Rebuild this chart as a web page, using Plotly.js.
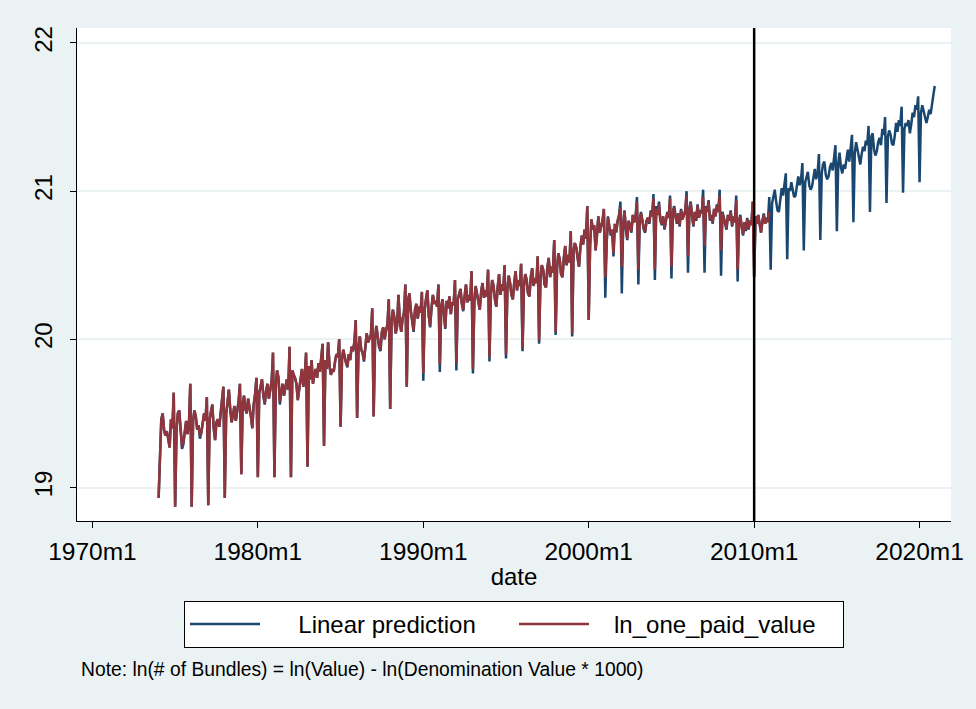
<!DOCTYPE html>
<html>
<head>
<meta charset="utf-8">
<script src="https://cdn.plot.ly/plotly-3.0.1.min.js"></script>
<style>html,body{margin:0;padding:0;background:#EAF2F3;}#chart{width:976px;height:709px;}</style>
</head>
<body>
<div id="chart"></div>
<script>
// Monthly series, starting 1974m1
const startYear = 1974;

// Linear prediction, 1974m1 - 2020m12 (one row per year, Jan..Dec)
const linearPrediction = [
  18.93, 19.25, 19.46, 19.50, 19.39, 19.35, 19.38, 19.33, 19.27, 19.46, 19.40, 19.64,
  18.87, 19.39, 19.50, 19.52, 19.35, 19.26, 19.29, 19.38, 19.45, 19.36, 19.42, 19.70,
  18.87, 19.45, 19.52, 19.48, 19.39, 19.42, 19.33, 19.37, 19.45, 19.50, 19.45, 19.61,
  18.88, 19.46, 19.51, 19.56, 19.40, 19.32, 19.44, 19.46, 19.41, 19.50, 19.57, 19.68,
  18.93, 19.50, 19.57, 19.66, 19.53, 19.44, 19.49, 19.55, 19.45, 19.52, 19.58, 19.70,
  19.09, 19.57, 19.62, 19.53, 19.50, 19.60, 19.55, 19.48, 19.40, 19.56, 19.63, 19.74,
  19.07, 19.64, 19.68, 19.73, 19.62, 19.56, 19.65, 19.70, 19.60, 19.66, 19.72, 19.91,
  19.07, 19.70, 19.79, 19.74, 19.56, 19.64, 19.70, 19.62, 19.68, 19.73, 19.66, 19.95,
  19.07, 19.79, 19.76, 19.74, 19.70, 19.59, 19.66, 19.72, 19.80, 19.68, 19.75, 19.91,
  19.14, 19.82, 19.73, 19.86, 19.70, 19.76, 19.80, 19.74, 19.84, 19.78, 19.88, 19.97,
  19.28, 19.86, 19.80, 19.98, 19.82, 19.76, 19.80, 19.78, 19.85, 19.90, 19.88, 20.00,
  19.41, 19.86, 19.93, 19.88, 19.84, 19.81, 19.90, 19.86, 19.95, 19.92, 19.98, 20.13,
  19.47, 19.95, 20.02, 19.93, 19.91, 19.85, 19.96, 20.04, 19.98, 20.00, 20.03, 20.21,
  19.48, 20.00, 20.09, 20.02, 19.95, 19.92, 20.05, 20.08, 20.00, 20.06, 20.10, 20.27,
  19.53, 20.13, 20.20, 20.15, 20.04, 20.09, 20.30, 20.12, 20.05, 20.14, 20.18, 20.37,
  19.68, 20.27, 20.31, 20.19, 20.11, 20.05, 20.20, 20.24, 20.14, 20.22, 20.18, 20.32,
  19.72, 20.20, 20.27, 20.33, 20.16, 20.08, 20.21, 20.30, 20.24, 20.26, 20.22, 20.37,
  19.78, 20.22, 20.27, 20.18, 20.07, 20.26, 20.21, 20.29, 20.17, 20.25, 20.23, 20.40,
  19.79, 20.27, 20.31, 20.34, 20.24, 20.19, 20.29, 20.37, 20.25, 20.30, 20.26, 20.46,
  19.77, 20.25, 20.36, 20.31, 20.27, 20.20, 20.32, 20.38, 20.28, 20.33, 20.29, 20.47,
  19.85, 20.30, 20.40, 20.36, 20.27, 20.22, 20.35, 20.44, 20.30, 20.37, 20.33, 20.50,
  19.87, 20.34, 20.43, 20.38, 20.30, 20.27, 20.38, 20.46, 20.33, 20.40, 20.36, 20.51,
  19.92, 20.36, 20.44, 20.40, 20.31, 20.29, 20.42, 20.48, 20.36, 20.41, 20.38, 20.56,
  19.97, 20.42, 20.50, 20.47, 20.37, 20.35, 20.48, 20.55, 20.42, 20.49, 20.45, 20.67,
  20.03, 20.48, 20.58, 20.54, 20.44, 20.42, 20.55, 20.63, 20.50, 20.57, 20.52, 20.73,
  20.02, 20.60, 20.65, 20.62, 20.55, 20.49, 20.62, 20.70, 20.64, 20.74, 20.68, 20.90,
  20.13, 20.63, 20.81, 20.74, 20.77, 20.60, 20.70, 20.83, 20.72, 20.76, 20.80, 20.88,
  20.28, 20.65, 20.83, 20.76, 20.70, 20.74, 20.56, 20.78, 20.72, 20.80, 20.84, 20.93,
  20.31, 20.78, 20.87, 20.74, 20.67, 20.80, 20.76, 20.72, 20.84, 20.79, 20.83, 20.96,
  20.37, 20.81, 20.86, 20.80, 20.74, 20.72, 20.80, 20.82, 20.78, 20.87, 20.84, 20.98,
  20.40, 20.90, 20.84, 20.93, 20.80, 20.77, 20.83, 20.74, 20.81, 20.86, 20.82, 20.97,
  20.41, 20.86, 20.90, 20.82, 20.78, 20.85, 20.76, 20.88, 20.81, 20.84, 20.87, 21.00,
  20.45, 20.88, 20.93, 20.83, 20.76, 20.86, 20.80, 20.91, 20.82, 20.87, 20.85, 21.01,
  20.45, 20.90, 20.86, 20.94, 20.80, 20.84, 20.78, 20.88, 20.83, 20.91, 20.86, 21.01,
  20.43, 20.86, 20.82, 20.78, 20.74, 20.84, 20.80, 20.87, 20.76, 20.83, 20.79, 20.97,
  20.39, 20.80, 20.84, 20.76, 20.70, 20.79, 20.73, 20.82, 20.74, 20.80, 20.78, 20.93,
  20.42, 20.83, 20.79, 20.84, 20.76, 20.72, 20.80, 20.85, 20.78, 20.82, 20.80, 20.96,
  20.47, 20.92, 20.96, 21.01, 20.93, 20.87, 20.86, 20.94, 21.02, 20.97, 21.03, 21.12,
  20.54, 21.02, 21.00, 21.06, 21.01, 20.96, 20.97, 21.05, 21.10, 21.04, 21.08, 21.19,
  20.60, 21.06, 21.09, 21.13, 21.04, 21.01, 21.03, 21.10, 21.15, 21.08, 21.12, 21.25,
  20.67, 21.12, 21.18, 21.20, 21.11, 21.08, 21.10, 21.16, 21.19, 21.14, 21.22, 21.31,
  20.73, 21.19, 21.26, 21.16, 21.12, 21.18, 21.15, 21.22, 21.28, 21.20, 21.32, 21.38,
  20.79, 21.26, 21.33, 21.28, 21.21, 21.18, 21.25, 21.30, 21.27, 21.34, 21.31, 21.44,
  20.86, 21.37, 21.39, 21.28, 21.24, 21.27, 21.33, 21.36, 21.31, 21.42, 21.38, 21.50,
  20.92, 21.37, 21.41, 21.38, 21.32, 21.31, 21.37, 21.46, 21.40, 21.48, 21.44, 21.57,
  20.99, 21.42, 21.46, 21.44, 21.48, 21.39, 21.45, 21.53, 21.50, 21.58, 21.55, 21.64,
  21.06, 21.53, 21.58, 21.54, 21.48, 21.46, 21.50, 21.55, 21.52, 21.60, 21.65, 21.71
];

// ln_one_paid_value, 1974m1 - 2010m12
const lnOnePaidValue = [
  18.93, 19.25, 19.46, 19.50, 19.39, 19.35, 19.38, 19.33, 19.27, 19.46, 19.40, 19.64,
  18.87, 19.39, 19.50, 19.52, 19.36, 19.28, 19.31, 19.38, 19.45, 19.36, 19.42, 19.70,
  18.87, 19.45, 19.52, 19.48, 19.40, 19.42, 19.35, 19.37, 19.45, 19.50, 19.45, 19.61,
  18.88, 19.46, 19.51, 19.56, 19.40, 19.32, 19.44, 19.46, 19.41, 19.50, 19.57, 19.68,
  18.93, 19.50, 19.57, 19.66, 19.53, 19.44, 19.49, 19.55, 19.45, 19.52, 19.58, 19.70,
  19.09, 19.57, 19.62, 19.53, 19.50, 19.60, 19.55, 19.48, 19.40, 19.56, 19.63, 19.74,
  19.07, 19.64, 19.68, 19.73, 19.62, 19.57, 19.65, 19.70, 19.60, 19.66, 19.72, 19.91,
  19.07, 19.70, 19.79, 19.74, 19.58, 19.64, 19.70, 19.62, 19.68, 19.73, 19.66, 19.95,
  19.07, 19.79, 19.76, 19.74, 19.70, 19.59, 19.66, 19.72, 19.80, 19.68, 19.75, 19.91,
  19.14, 19.82, 19.73, 19.86, 19.70, 19.76, 19.80, 19.74, 19.84, 19.78, 19.88, 19.97,
  19.28, 19.86, 19.80, 19.98, 19.82, 19.76, 19.80, 19.78, 19.85, 19.90, 19.88, 20.00,
  19.41, 19.86, 19.93, 19.88, 19.84, 19.82, 19.90, 19.86, 19.95, 19.92, 19.98, 20.13,
  19.47, 19.95, 20.02, 19.93, 19.91, 19.86, 19.96, 20.04, 19.98, 20.00, 20.03, 20.21,
  19.48, 20.00, 20.09, 20.02, 19.95, 19.93, 20.05, 20.08, 20.00, 20.06, 20.10, 20.27,
  19.53, 20.13, 20.20, 20.15, 20.04, 20.09, 20.30, 20.12, 20.05, 20.14, 20.18, 20.37,
  19.68, 20.27, 20.31, 20.19, 20.11, 20.06, 20.20, 20.24, 20.14, 20.22, 20.18, 20.32,
  19.77, 20.20, 20.27, 20.33, 20.16, 20.09, 20.21, 20.30, 20.24, 20.26, 20.22, 20.37,
  19.83, 20.22, 20.27, 20.18, 20.08, 20.26, 20.21, 20.29, 20.17, 20.25, 20.23, 20.40,
  19.84, 20.27, 20.31, 20.34, 20.24, 20.20, 20.29, 20.37, 20.25, 20.30, 20.26, 20.46,
  19.80, 20.25, 20.36, 20.31, 20.27, 20.20, 20.32, 20.38, 20.28, 20.33, 20.29, 20.47,
  19.88, 20.30, 20.40, 20.36, 20.27, 20.22, 20.35, 20.44, 20.30, 20.37, 20.33, 20.50,
  19.90, 20.34, 20.43, 20.38, 20.30, 20.27, 20.38, 20.46, 20.33, 20.40, 20.36, 20.51,
  19.94, 20.36, 20.44, 20.40, 20.31, 20.29, 20.42, 20.48, 20.36, 20.41, 20.38, 20.56,
  19.99, 20.42, 20.50, 20.47, 20.37, 20.35, 20.48, 20.55, 20.42, 20.49, 20.45, 20.67,
  20.05, 20.48, 20.58, 20.54, 20.44, 20.42, 20.55, 20.63, 20.50, 20.57, 20.52, 20.73,
  20.04, 20.60, 20.65, 20.62, 20.55, 20.49, 20.62, 20.70, 20.64, 20.74, 20.68, 20.90,
  20.13, 20.63, 20.81, 20.74, 20.77, 20.60, 20.70, 20.83, 20.72, 20.76, 20.80, 20.88,
  20.42, 20.66, 20.82, 20.76, 20.71, 20.74, 20.58, 20.78, 20.73, 20.80, 20.83, 20.89,
  20.49, 20.78, 20.86, 20.75, 20.68, 20.80, 20.76, 20.73, 20.84, 20.79, 20.82, 20.93,
  20.47, 20.81, 20.85, 20.80, 20.75, 20.73, 20.80, 20.82, 20.79, 20.86, 20.83, 20.95,
  20.47, 20.88, 20.84, 20.91, 20.80, 20.78, 20.83, 20.75, 20.81, 20.85, 20.82, 20.95,
  20.49, 20.85, 20.89, 20.82, 20.79, 20.85, 20.77, 20.87, 20.81, 20.84, 20.86, 20.97,
  20.56, 20.87, 20.92, 20.83, 20.77, 20.86, 20.81, 20.90, 20.82, 20.86, 20.85, 20.96,
  20.63, 20.89, 20.86, 20.93, 20.81, 20.84, 20.79, 20.88, 20.83, 20.90, 20.86, 20.97,
  20.60, 20.85, 20.82, 20.79, 20.75, 20.84, 20.80, 20.86, 20.77, 20.82, 20.79, 20.94,
  20.47, 20.80, 20.83, 20.76, 20.71, 20.79, 20.74, 20.81, 20.75, 20.80, 20.77, 20.93,
  20.42, 20.83, 20.78, 20.84, 20.76, 20.72, 20.79, 20.84, 20.78, 20.81, 20.79, 20.86
];

const tickYears = [1970, 1980, 1990, 2000, 2010, 2020];
const tickLabels = ['1970m1', '1980m1', '1990m1', '2000m1', '2010m1', '2020m1'];
const yTicks = [19, 20, 21, 22];
const seriesNames = ['Linear prediction', 'ln_one_paid_value'];
const refLineYear = 2010;
const noteText = 'Note: ln(# of Bundles) = ln(Value) - ln(Denomination Value * 1000)';

function monthDates(y0, n) {
  const out = [];
  for (let i = 0; i < n; i++) {
    const y = y0 + Math.floor(i / 12);
    const m = (i % 12) + 1;
    out.push(y + '-' + String(m).padStart(2, '0') + '-01');
  }
  return out;
}

const FONT = 'Liberation Sans, Arial, sans-serif';
const navy = '#1a476f';
const maroon = '#90353b';
const gapA = '\u00a0\u00a0\u00a0\u00a0\u00a0';
const gapB = '\u00a0\u00a0\u00a0';

const traces = [
  {
    type: 'scatter', mode: 'lines', name: gapA + seriesNames[0],
    x: monthDates(startYear, linearPrediction.length), y: linearPrediction,
    line: {color: navy, width: 2.5}
  },
  {
    type: 'scatter', mode: 'lines', name: gapB + seriesNames[1],
    x: monthDates(startYear, lnOnePaidValue.length), y: lnOnePaidValue,
    line: {color: maroon, width: 2.5}
  }
];

const layout = {
  width: 976, height: 709,
  margin: {l: 77, r: 25, t: 28, b: 188},
  paper_bgcolor: '#EAF2F3',
  plot_bgcolor: '#FFFFFF',
  font: {family: FONT, color: '#000'},
  showlegend: true,
  xaxis: {
    type: 'date',
    range: ['1969-01-25', '2021-11-25'],
    tickmode: 'array',
    tickvals: tickYears.map(y => y + '-01-01'),
    ticktext: tickLabels,
    ticks: 'outside', ticklen: 6, tickwidth: 1, tickcolor: '#000',
    ticklabelstandoff: 3,
    showline: true, linecolor: '#000', linewidth: 1,
    showgrid: false, zeroline: false,
    tickfont: {family: FONT, size: 24.5, color: '#000'},
    title: {text: 'date', font: {family: FONT, size: 24, color: '#000'}, standoff: 3}
  },
  yaxis: {
    range: [18.774, 22.101],
    tickmode: 'array', tickvals: yTicks, ticktext: yTicks.map(String),
    tickangle: -90,
    ticks: 'outside', ticklen: 6, tickwidth: 1, tickcolor: '#000',
    ticklabelstandoff: 8,
    showline: true, linecolor: '#000', linewidth: 1,
    showgrid: true, gridcolor: '#EAF2F3', gridwidth: 2,
    zeroline: false,
    tickfont: {family: FONT, size: 24, color: '#000'}
  },
  shapes: [{
    type: 'line', xref: 'x', yref: 'paper',
    x0: refLineYear + '-01-01', x1: refLineYear + '-01-01', y0: 0, y1: 1,
    line: {color: '#000', width: 2.5}
  }],
  legend: {
    orientation: 'h', x: 0.5, xanchor: 'center', y: -0.162, yanchor: 'top',
    bgcolor: '#FFFFFF', bordercolor: '#000', borderwidth: 1,
    font: {family: FONT, size: 24, color: '#000'},
    itemwidth: 70, entrywidth: 244, traceorder: 'normal'
  },
  annotations: [{
    text: noteText, xref: 'paper', yref: 'paper',
    x: 0.002, y: -0.302, xanchor: 'left', yanchor: 'middle',
    showarrow: false, font: {family: FONT, size: 19.3, color: '#000'}
  }]
};

Plotly.newPlot('chart', traces, layout, {displayModeBar: false, staticPlot: true});
</script>
</body>
</html>
